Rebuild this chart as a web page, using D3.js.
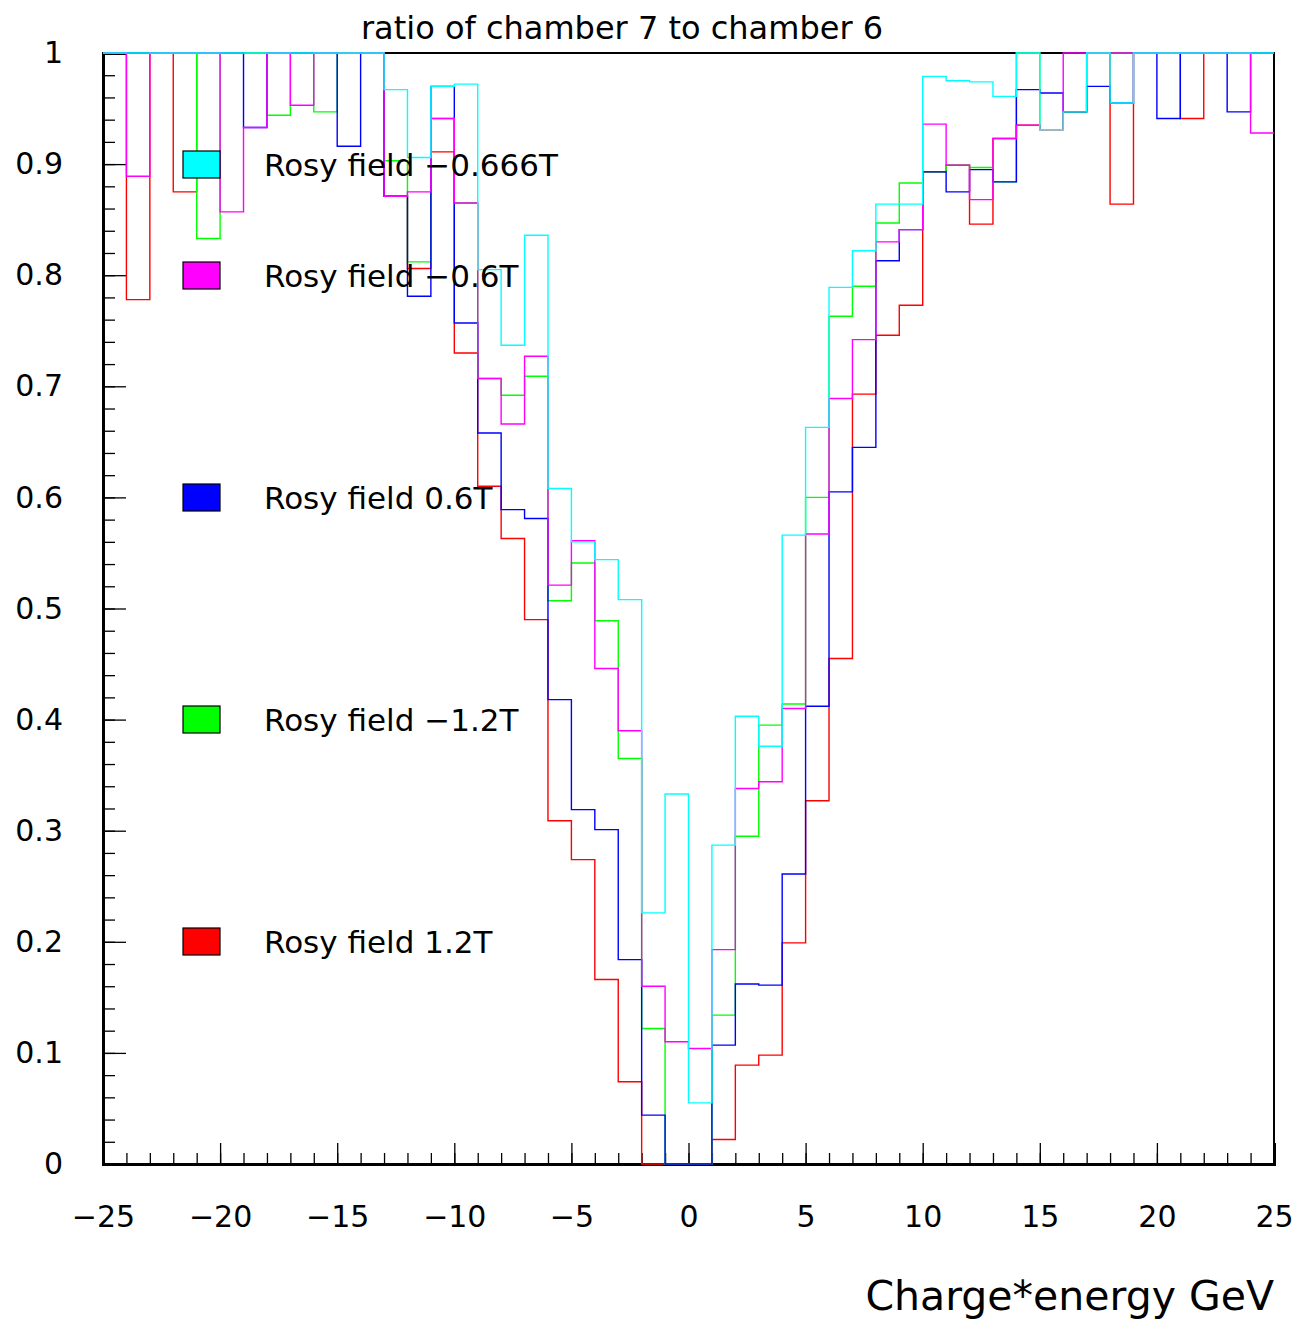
<!DOCTYPE html>
<html>
<head>
<meta charset="utf-8">
<script src="https://cdn.jsdelivr.net/npm/d3@7"></script>
<style>
  body { margin: 0; background: #fff; }
  svg { display: block; }
  text { font-family: "DejaVu Sans", sans-serif; fill: #000; }
</style>
</head>
<body>
<svg width="1299" height="1319"></svg>
<script>
// bin lower edges, -25 .. 24 (width 1)
var binEdges = d3.range(-25, 26);

// ratio per bin
var cyan = [1, 1, 1, 1, 1, 1, 1, 1, 1, 1, 1, 1, 0.967, 0.906, 0.970, 0.972, 0.805, 0.737, 0.836, 0.608,
  0.560, 0.544, 0.508, 0.226, 0.333, 0.055, 0.287, 0.403, 0.376, 0.566, 0.663, 0.789, 0.822, 0.864, 0.864,
  0.979, 0.975, 0.974, 0.961, 1, 0.931, 0.947, 1, 0.955, 1, 1, 1, 1, 1, 1];
var magenta = [1, 0.889, 1, 1, 1, 0.857, 0.933, 1, 0.953, 1, 1, 1, 0.871, 0.875, 0.941, 0.865, 0.707, 0.666, 0.727, 0.521,
  0.561, 0.446, 0.390, 0.160, 0.110, 0.104, 0.193, 0.338, 0.344, 0.410, 0.567, 0.689, 0.742, 0.830, 0.841,
  0.936, 0.899, 0.868, 0.923, 0.935, 0.931, 1, 1, 1, 1, 1, 1, 1, 1, 0.928];
var blue = [1, 1, 1, 1, 1, 1, 0.933, 1, 1, 1, 0.916, 1, 0.871, 0.781, 0.970, 0.757, 0.658, 0.589, 0.581, 0.418,
  0.319, 0.301, 0.184, 0.044, 0, 0, 0.107, 0.162, 0.161, 0.261, 0.412, 0.605, 0.645, 0.813, 0.841,
  0.893, 0.875, 0.895, 0.884, 0.967, 0.964, 0.947, 0.970, 0.955, 1, 0.941, 1, 1, 0.947, 1];
var green = [1, 1, 1, 1, 0.833, 1, 1, 0.944, 1, 0.947, 1, 1, 0.903, 0.812, 0.941, 0.865, 0.707, 0.692, 0.709, 0.507,
  0.541, 0.489, 0.365, 0.122, 0, 0, 0.134, 0.295, 0.395, 0.414, 0.600, 0.763, 0.790, 0.847, 0.883,
  0.893, 0.899, 0.897, 0.884, 1, 0.931, 0.947, 1, 1, 1, 1, 1, 1, 1, 1];
var red = [1, 0.778, 1, 0.875, 1, 1, 1, 1, 1, 1, 1, 1, 0.871, 0.806, 0.911, 0.730, 0.610, 0.563, 0.490, 0.309,
  0.274, 0.166, 0.074, 0, 0, 0, 0.022, 0.089, 0.098, 0.199, 0.327, 0.455, 0.693, 0.746, 0.773,
  0.893, 0.899, 0.846, 0.923, 0.935, 0.931, 0.947, 1, 0.864, 1, 1, 0.941, 1, 1, 1];

var xTicksMajor = [-25, -20, -15, -10, -5, 0, 5, 10, 15, 20, 25];
var yTicksMajor = [0, 0.1, 0.2, 0.3, 0.4, 0.5, 0.6, 0.7, 0.8, 0.9, 1];

// draw order: red first, cyan on top
var series = [
  {name: 'Rosy field 1.2T', color: '#ff0000', values: red},
  {name: 'Rosy field \u22121.2T', color: '#00ff00', values: green},
  {name: 'Rosy field 0.6T', color: '#0000ff', values: blue},
  {name: 'Rosy field \u22120.6T', color: '#ff00ff', values: magenta},
  {name: 'Rosy field \u22120.666T', color: '#00ffff', values: cyan}
];
var legendOrder = [4, 3, 2, 1, 0];

var plotLeft = 103, plotRight = 1274, plotTop = 53, plotBottom = 1164;

var svg = d3.select('svg');

var x = d3.scaleLinear().domain([-25, 25]).range([plotLeft, plotRight]);
var y = d3.scaleLinear().domain([0, 1]).range([plotBottom, plotTop]);

// x axis
var xMinor = svg.append('g')
    .attr('transform', 'translate(0,' + plotBottom + ')')
    .call(d3.axisBottom(x).tickValues(d3.range(-25, 26)).tickSize(-11).tickFormat(''));
var xAxis = svg.append('g')
    .attr('transform', 'translate(0,' + plotBottom + ')')
    .call(d3.axisBottom(x).tickValues(xTicksMajor).tickSize(-21).tickPadding(42));

// y axis
var yMinor = svg.append('g')
    .attr('transform', 'translate(' + plotLeft + ',0)')
    .call(d3.axisLeft(y).tickValues(d3.range(0, 51).map(function(i) { return i / 50; })).tickSize(-12).tickFormat(''));
var yAxis = svg.append('g')
    .attr('transform', 'translate(' + plotLeft + ',0)')
    .call(d3.axisLeft(y).tickValues(yTicksMajor).tickSize(-23).tickPadding(40).tickFormat(d3.format('')));

[xMinor, xAxis, yMinor, yAxis].forEach(function(g) {
    g.select('.domain').attr('stroke', '#000').attr('stroke-width', 3);
    g.selectAll('.tick line').attr('stroke', '#000').attr('stroke-width', 1.3);
    g.selectAll('.tick text').attr('font-size', 30).attr('font-family', '"DejaVu Sans", sans-serif');
});

// frame (hists go over it, like the original)
svg.append('rect')
    .attr('x', plotLeft).attr('y', plotTop)
    .attr('width', plotRight - plotLeft).attr('height', plotBottom - plotTop)
    .attr('fill', 'none')
    .attr('stroke', '#000')
    .attr('stroke-width', 2);

var line = d3.line()
    .x(function(d) { return x(d[0]); })
    .y(function(d) { return y(d[1]); })
    .curve(d3.curveStepAfter);

var hists = svg.append('g');
series.forEach(function(s) {
    var pts = s.values.map(function(v, i) { return [binEdges[i], v]; });
    pts.push([binEdges[s.values.length], s.values[s.values.length - 1]]);
    hists.append('path')
        .attr('d', line(pts))
        .attr('fill', 'none')
        .attr('stroke', s.color)
        .attr('stroke-width', 1.4);
});

// title
svg.append('text')
    .attr('x', 622).attr('y', 39)
    .attr('text-anchor', 'middle')
    .attr('font-size', 32)
    .text('ratio of chamber 7 to chamber 6');

// x axis title
svg.append('text')
    .attr('x', plotRight).attr('y', 1310)
    .attr('text-anchor', 'end')
    .attr('font-size', 41)
    .text('Charge*energy GeV');

// legend
var legendY = [165, 276, 498, 720, 942];
var legend = svg.append('g');
legendOrder.forEach(function(si, k) {
    var s = series[si];
    legend.append('rect')
        .attr('x', 183).attr('y', legendY[k] - 14)
        .attr('width', 37).attr('height', 27)
        .attr('fill', s.color)
        .attr('stroke', '#000')
        .attr('stroke-width', 1.2);
    legend.append('text')
        .attr('x', 264).attr('y', legendY[k] + 11)
        .attr('font-size', 31)
        .text(s.name);
});
</script>
</body>
</html>
